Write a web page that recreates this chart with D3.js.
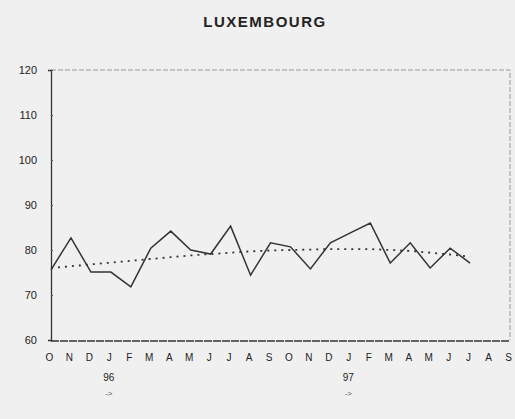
<!DOCTYPE html>
<html>
<head>
<meta charset="utf-8">
<script src="https://cdn.jsdelivr.net/npm/d3@7"></script>
<style>
  html, body { margin: 0; padding: 0; background: #f0f0f0; }
  svg { display: block; }
  text { font-family: "Liberation Sans", Arial, sans-serif; fill: #222; }
</style>
</head>
<body>
<svg id="chart" width="515" height="419"></svg>
<script>
// Month labels along the time axis (Oct 1995 - Sep 1997)
const months = ["O","N","D","J","F","M","A","M","J","J","A","S","O","N","D","J","F","M","A","M","J","J","A","S"];
// Year markers placed under January
const yearMarks = [{ index: 3, label: "96" }, { index: 15, label: "97" }];
// Monthly index values (Oct 1995 - Jul 1997)
const values = [75.6, 82.7, 75.1, 75.1, 71.8, 80.4, 84.2, 80.0, 79.1, 85.3, 74.4,
                81.6, 80.7, 75.8, 81.6, 83.8, 86.0, 77.1, 81.6, 76.0, 80.4, 77.1];
// Smoothed trend over the same months
const trend = [76.0, 76.4, 76.8, 77.2, 77.6, 78.0, 78.4, 78.8, 79.1, 79.4, 79.7,
               79.9, 80.0, 80.1, 80.2, 80.2, 80.2, 80.0, 79.8, 79.4, 79.0, 78.5];
// Value axis ticks
const yTicks = [60, 70, 80, 90, 100, 110, 120];

const svg = d3.select("#chart");
const plotLeft = 51, plotRight = 510, plotTop = 70, plotBottom = 340;
const fontFamily = "\"Liberation Sans\", Arial, sans-serif";

const x = d3.scaleLinear().domain([0, months.length - 1]).range([plotLeft - 2, plotRight - 2]);
const y = d3.scaleLinear().domain([60, 120]).range([plotBottom, plotTop]);

// Title
svg.append("text")
  .attr("x", 265).attr("y", 27)
  .attr("text-anchor", "middle")
  .style("font-size", "15px").style("font-weight", "bold")
  .style("letter-spacing", "1.5px")
  .text("LUXEMBOURG");

// Frame: light dashed top and right edges
svg.append("path")
  .attr("d", `M${plotLeft},${plotTop}H${plotRight}V${plotBottom}`)
  .attr("fill", "none").attr("stroke", "#999").attr("stroke-width", 1)
  .attr("stroke-dasharray", "5,2");

// Left value axis
const yAxis = d3.axisLeft(y).tickValues(yTicks).tickSize(3).tickPadding(11);
const gy = svg.append("g").attr("transform", `translate(${plotLeft},0)`).call(yAxis);
gy.select(".domain").attr("stroke", "#333").attr("stroke-width", 1.3);
gy.selectAll(".tick line").attr("stroke", "#555").attr("x2", 2);
gy.selectAll(".tick text").style("font-size", "11px").style("fill", "#222")
  .style("font-family", fontFamily);

// Bottom time axis
const xAxis = d3.axisBottom(x).tickValues(d3.range(months.length))
  .tickFormat(i => months[i]).tickSize(0).tickPadding(13);
const gx = svg.append("g").attr("transform", `translate(0,${plotBottom + 1})`).call(xAxis);
gx.select(".domain").attr("d", `M${plotLeft},0H${plotRight}`)
  .attr("stroke", "#333").attr("stroke-width", 1.3)
  .attr("stroke-dasharray", "8,1");
gx.selectAll(".tick text").style("font-size", "10px").style("fill", "#222")
  .style("font-family", fontFamily);

// Year markers with arrows
yearMarks.forEach(m => {
  svg.append("text").attr("x", x(m.index)).attr("y", 381)
    .attr("text-anchor", "middle").style("font-size", "10px").text(m.label);
  svg.append("text").attr("x", x(m.index)).attr("y", 396)
    .attr("text-anchor", "middle").style("font-size", "8px").style("fill", "#555").text("->");
});

const xi = i => x(i) + 2;

// Trend line (dotted)
svg.append("path")
  .datum(trend)
  .attr("fill", "none").attr("stroke", "#333").attr("stroke-width", 1.8)
  .attr("stroke-dasharray", "2,5")
  .attr("d", d3.line().x((d, i) => xi(i)).y(d => y(d)));

// Monthly series (solid)
svg.append("path")
  .datum(values)
  .attr("fill", "none").attr("stroke", "#333").attr("stroke-width", 1.5)
  .attr("stroke-linejoin", "miter")
  .attr("d", d3.line().x((d, i) => xi(i)).y(d => y(d)));
</script>
</body>
</html>
